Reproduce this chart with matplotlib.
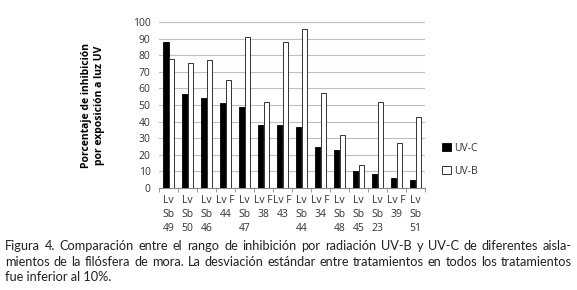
import numpy as np
import matplotlib.pyplot as plt

TEXT_C = "#333333"
GRID_C = "#bfbfbf"

categories = ["Lv\nSb\n49", "Lv\nSb\n50", "Lv\nSb\n46", "Lv F\n44", "Lv\nSb\n47",
              "Lv F\n38", "Lv F\n43", "Lv\nSb\n44", "Lv F\n34", "Lv\nSb\n48",
              "Lv\nSb\n45", "Lv\nSb\n23", "Lv F\n39", "Lv\nSb\n51"]
uv_c = [88, 56.5, 54.5, 51, 48.5, 38, 38, 36.5, 24.5, 23, 10, 8.2, 5.8, 4.7]
uv_b = [77.5, 75.3, 77, 65, 91, 51.8, 87.7, 95.7, 57, 31.8, 13.7, 51.8, 27.3, 43]
yticks = list(range(0, 101, 10))

caption = ["Figura 4. Comparación entre el rango de inhibición por radiación UV-B y UV-C de diferentes aisla-",
           "mientos de la filósfera de mora. La desviación estándar entre tratamientos en todos los tratamientos",
           "fue inferior al 10%."]

plt.rcParams.update({
    "font.family": ["Open Sans", "DejaVu Sans"],
    "text.color": TEXT_C,
    "xtick.color": TEXT_C,
    "ytick.color": TEXT_C,
})

fig = plt.figure(figsize=(5.77, 2.90), dpi=100)
W, H = 577, 290
# plot area in pixels: x 159..425, y 22..188 from top
ax = fig.add_axes([159 / W, 1 - 188 / H, (425 - 159) / W, (188 - 22) / H])

x = np.arange(len(categories))
bw = 0.3
ax.bar(x - bw / 2, uv_c, bw, color="black", edgecolor="black", linewidth=0.6,
       label="UV-C", zorder=3)
ax.bar(x + bw / 2, uv_b, bw, color="white", edgecolor="#333333", linewidth=0.7,
       label="UV-B", zorder=3)

ax.set_xlim(-0.5, len(categories) - 0.5)
ax.set_ylim(0, 100)
ax.set_yticks(yticks)
ax.tick_params(axis="y", labelsize=7.5, length=0, pad=6)
ax.set_xticks(x)
ax.set_xticklabels(categories, fontsize=7.5, linespacing=1.4)
ax.tick_params(axis="x", which="major", length=0, pad=5)
ax.set_xticks(np.arange(-0.5, len(categories)), minor=True)
ax.tick_params(axis="x", which="minor", length=3, color="#888888")
ax.grid(axis="y", color=GRID_C, linewidth=0.8, zorder=0)
for s in ["top", "right", "left"]:
    ax.spines[s].set_visible(False)
ax.spines["bottom"].set_color("#888888")

ax.set_ylabel("Porcentaje de inhibición\npor exposición a luz UV", fontsize=7.5,
              fontweight="bold", color="black", linespacing=1.3, labelpad=20)

leg = ax.legend(loc="center left", bbox_to_anchor=(1.03, 0.17), frameon=False,
                fontsize=7.5, handlelength=0.8, handleheight=0.8,
                handletextpad=0.3, labelspacing=1.15)

# caption, first two lines justified between x=5 and x=572
renderer = fig.canvas.get_renderer()
cap_kw = dict(fontsize=9.2, family=["Lato", "DejaVu Sans"], color="#222222",
              va="center", ha="left")
left, right = 5, 572
for i, line in enumerate(caption):
    y = 1 - (246 + i * 15.5) / H
    if i == len(caption) - 1:
        fig.text(left / W, y, line, **cap_kw)
        continue
    words = line.split(" ")
    texts = [fig.text(0, y, w, **cap_kw) for w in words]
    widths = [t.get_window_extent(renderer).width for t in texts]
    gap = (right - left - sum(widths)) / (len(words) - 1)
    pos = left
    for t, w in zip(texts, widths):
        t.set_x(pos / W)
        pos += w + gap

fig.savefig("out.png", dpi=100)
